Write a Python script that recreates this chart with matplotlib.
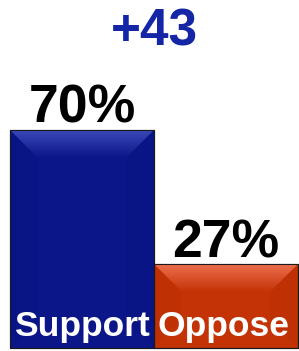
import numpy as np
import matplotlib
matplotlib.use("Agg")
import matplotlib.pyplot as plt
from matplotlib.patches import Polygon, Rectangle

# data
categories = ["Support", "Oppose"]
values = [70, 27]
value_labels = ["70%", "27%"]
margin_label = "+43"

# colours (base, light top)
bar_colors = ["#0b1688", "#c43306"]
top_colors = ["#3a48b8", "#f07050"]

plt.rcParams['font.family'] = ['Liberation Sans', 'DejaVu Sans']

fig = plt.figure(figsize=(2.99, 3.51), dpi=100)
ax = fig.add_axes([0, 0, 1, 1])
ax.set_xlim(-0.5694, 1.507)
ax.set_ylim(-0.9, 111.7)
ax.axis('off')

x = np.arange(len(categories))
bars = ax.bar(x, values, width=1.0, color=bar_colors, edgecolor="#1a1a1a",
              linewidth=0.8, zorder=2)

# px -> data unit scale for the bevel
px_x = (ax.get_xlim()[1] - ax.get_xlim()[0]) / 299
px_y = (ax.get_ylim()[1] - ax.get_ylim()[0]) / 351

for b, base, light in zip(bars, bar_colors, top_colors):
    x0, y0 = b.get_x(), b.get_y()
    w, h = b.get_width(), b.get_height()
    x1, y1 = x0 + w, y0 + h
    d = 28
    dx, dy = d * px_x, d * px_y
    # top bevel with vertical gradient
    top = Polygon([(x0, y1), (x1, y1), (x1 - dx, y1 - dy), (x0 + dx, y1 - dy)],
                  closed=True, facecolor='none', edgecolor='none', zorder=3)
    ax.add_patch(top)
    grad = np.linspace(1, 0, 64).reshape(-1, 1)
    c_light = np.array(matplotlib.colors.to_rgb(light))
    c_base = np.array(matplotlib.colors.to_rgb(base))
    img = grad[..., None] * c_light + (1 - grad[..., None]) * c_base
    im = ax.imshow(img, extent=(x0, x1, y1 - dy, y1), origin='upper',
                   aspect='auto', zorder=3)
    im.set_clip_path(top)
    # faint darker sides
    side_col = tuple(np.clip(c_base * 0.85, 0, 1))
    ax.add_patch(Polygon([(x0, y1), (x0 + dx, y1 - dy), (x0 + dx, y0 + dy), (x0, y0)],
                         closed=True, facecolor=side_col, edgecolor='none',
                         alpha=0.15, zorder=3))
    ax.add_patch(Polygon([(x1, y1), (x1 - dx, y1 - dy), (x1 - dx, y0 + dy), (x1, y0)],
                         closed=True, facecolor=side_col, edgecolor='none',
                         alpha=0.15, zorder=3))
    ax.add_patch(Rectangle((x0, y0), w, h, facecolor='none', edgecolor="#1a1a1a",
                           linewidth=0.8, zorder=4))

for b, lab, cat in zip(bars, value_labels, categories):
    ax.annotate(lab, (b.get_x() + b.get_width() / 2, b.get_height()),
                xytext=(0, 7), textcoords='offset pixels', ha='center',
                va='baseline', fontsize=38.5, fontweight='bold', color='black',
                zorder=5)
    ax.annotate(cat, (b.get_x(), 0), xytext=(4, 12), textcoords='offset pixels',
                ha='left', va='baseline', fontsize=25.5, fontweight='bold',
                color='white', zorder=5)

fig.text(0.518, 1 - 45 / 351, margin_label, ha='center', va='baseline',
         fontsize=37, fontweight='bold', color='#1426a6')

fig.savefig("out.png", dpi=100)
